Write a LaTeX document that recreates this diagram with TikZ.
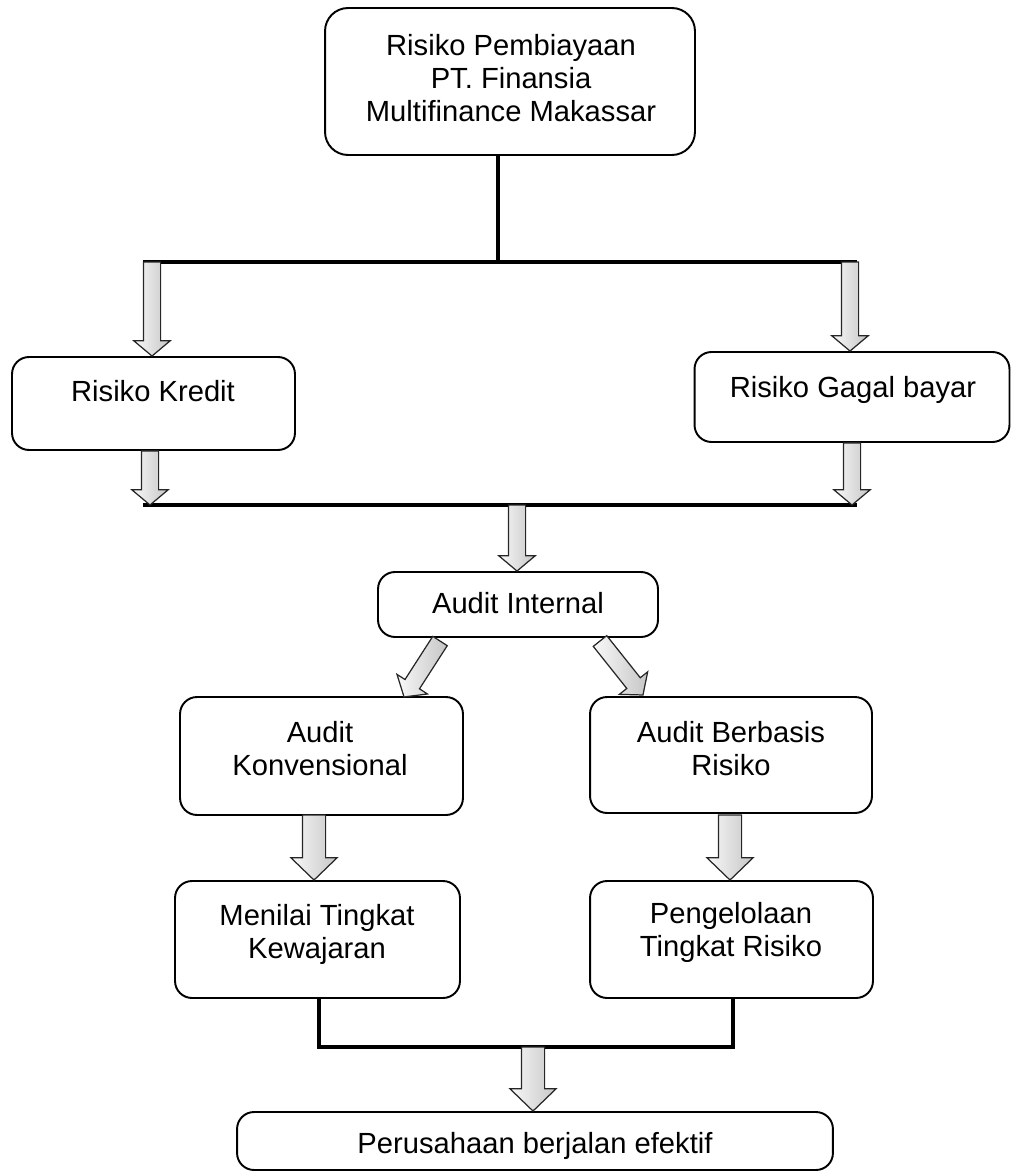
\documentclass[tikz,border=0pt]{standalone}
\usepackage{fontspec}
\setmainfont{Liberation Sans}
\usetikzlibrary{shapes.arrows, calc}

\newcommand{\blockarr}[3][]{%
  \path let \p1=(#2), \p2=(#3),
    \n1={veclen(\x2-\x1,\y2-\y1)}, \n2={atan2(\y2-\y1,\x2-\x1)} in
    (#2) -- (#3) node[pos=0, anchor=tail, barr, #1, minimum height=\n1, rotate=\n2] {};}

\begin{document}
\begin{tikzpicture}[
    x=0.02cm, y=-0.02cm,
    every node/.style={font=\fontsize{16.6}{18.8}\selectfont},
    box/.style={draw, line width=1.1pt, rounded corners=0.34cm, fill=white, inner sep=0pt},
    txt/.style={align=center, inner sep=0pt},
    bar/.style={line width=2.4pt},
    barr/.style={single arrow, draw=black!85, line width=0.7pt, left color=gray!5, right color=gray!45,
                 inner xsep=0pt, inner ysep=0.16cm, outer sep=0pt, single arrow head extend=0.19cm,
                 single arrow tip angle=100, single arrow head indent=0pt},
    big/.style={inner ysep=0.22cm, single arrow head extend=0.23cm, single arrow tip angle=92},
  ]
  \useasboundingbox (0,0) rectangle (1013,1176);
  \coordinate (j1) at (498,262);
  \coordinate (barL) at (143,262);
  \coordinate (barR) at (857,262);
  \coordinate (a1) at (152,262);
  \coordinate (a2) at (850,262);
  \coordinate (midL) at (143,505);
  \coordinate (midR) at (857,505);
  \coordinate (b1) at (150,505);
  \coordinate (b2) at (852,505);
  \coordinate (b3) at (517,505);
  \coordinate (d1) at (440,641);
  \coordinate (d1e) at (404,697);
  \coordinate (d2) at (600,641);
  \coordinate (d2e) at (643,695);
  \coordinate (e1) at (314,815);
  \coordinate (e2) at (730,815);
  \coordinate (f1) at (319,1047);
  \coordinate (f2) at (733,1047);
  \coordinate (f3) at (533,1047);

  \node[box, minimum width=7.4cm, minimum height=2.94cm, rounded corners=0.46cm] (risiko) at (510,81.5) {};
  \node[box, minimum width=5.66cm, minimum height=1.86cm] (kredit) at (153.5,403.5) {};
  \node[box, minimum width=6.3cm, minimum height=1.8cm] (gagal) at (852,397) {};
  \node[box, minimum width=5.6cm, minimum height=1.3cm] (internal) at (518,604.5) {};
  \node[box, minimum width=5.66cm, minimum height=2.36cm] (konv) at (321.5,756) {};
  \node[box, minimum width=5.64cm, minimum height=2.32cm] (berbasis) at (731,755) {};
  \node[box, minimum width=5.7cm, minimum height=2.34cm] (menilai) at (317.5,939.5) {};
  \node[box, minimum width=5.66cm, minimum height=2.34cm] (kelola) at (731.5,939.5) {};
  \node[box, minimum width=11.92cm, minimum height=1.16cm] (efektif) at (535,1141) {};

  \draw[bar] (risiko.south -| j1) -- (j1);
  \draw[bar] (barL) -- (barR);
  \draw[bar] (midL) -- (midR);
  \draw[bar] (f1 |- menilai.south) -- (f1) -- (f2) -- (f2 |- kelola.south);

  \blockarr{a1}{a1 |- kredit.north}
  \blockarr{a2}{a2 |- gagal.north}
  \blockarr{b1 |- kredit.south}{b1}
  \blockarr{b2 |- gagal.south}{b2}
  \blockarr{b3}{b3 |- internal.north}
  \blockarr{d1}{d1e}
  \blockarr{d2}{d2e}
  \blockarr[big]{e1}{e1 |- menilai.north}
  \blockarr[big]{e2}{e2 |- kelola.north}
  \blockarr[big]{f3}{f3 |- efektif.north}

  \node[txt, anchor=north] (risiko-t) at (511,34) {Risiko Pembiayaan\\PT. Finansia\\Multifinance Makassar};
  \node[txt, anchor=base] (kredit-t) at (153,401) {Risiko Kredit};
  \node[txt, anchor=base] (gagal-t) at (853,397) {Risiko Gagal bayar};
  \node[txt, anchor=base] (internal-t) at (518,613) {Audit Internal};
  \node[txt, anchor=north] (konv-t) at (320,721) {Audit\\Konvensional};
  \node[txt, anchor=north] (berbasis-t) at (731,721) {Audit Berbasis\\Risiko};
  \node[txt, anchor=north] (menilai-t) at (317,904) {Menilai Tingkat\\Kewajaran};
  \node[txt, anchor=north] (kelola-t) at (731,902) {Pengelolaan\\Tingkat Risiko};
  \node[txt, anchor=base] (efektif-t) at (535,1153) {Perusahaan berjalan efektif};
\end{tikzpicture}
\end{document}
